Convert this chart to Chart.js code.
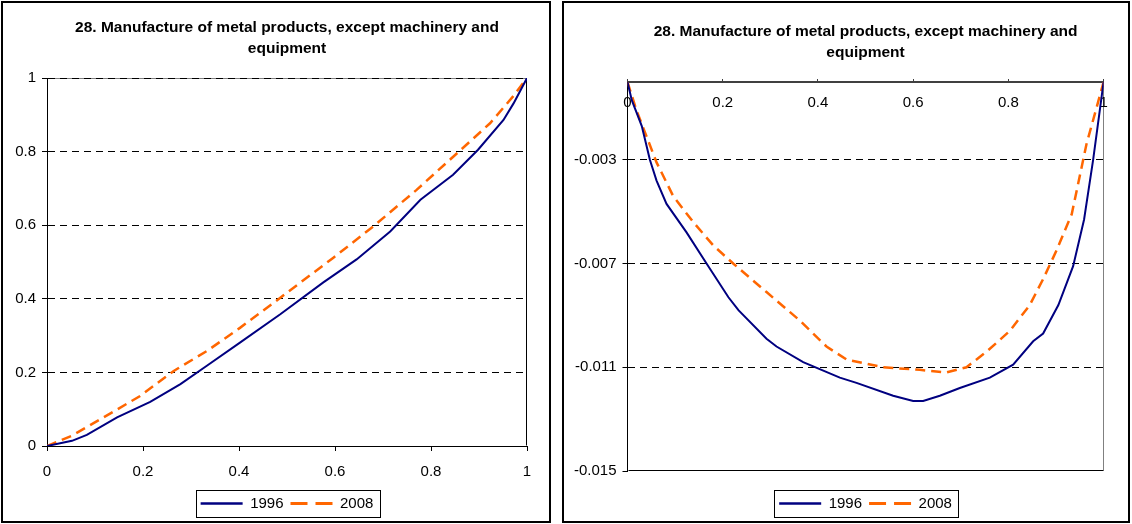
<!DOCTYPE html>
<html>
<head>
<meta charset="utf-8">
<script src="https://cdn.jsdelivr.net/npm/chart.js@4"></script>
<style>
body { margin: 0; background: #fff; width: 1132px; height: 524px; position: relative; overflow: hidden; }
.panel { position: absolute; top: 1px; border: 2px solid #000; background: #fff; }
#leftPanel { left: 1px; width: 546px; height: 518px; }
#rightPanel { left: 562px; width: 564px; height: 518px; }
canvas { display: block; }
</style>
</head>
<body>
<div class="panel" id="leftPanel"><canvas id="leftChart" width="546" height="518"></canvas></div>
<div class="panel" id="rightPanel"><canvas id="rightChart" width="564" height="518"></canvas></div>
<script>
const titleLines = ['28. Manufacture of metal products, except machinery and', 'equipment'];
const seriesNames = ['1996', '2008'];

// left chart: cumulative curves
const leftXTicks = [0, 0.2, 0.4, 0.6, 0.8, 1];
const leftYTicks = [0, 0.2, 0.4, 0.6, 0.8, 1];
const leftX1996 = [0, 0.052, 0.083, 0.146, 0.215, 0.278, 0.333, 0.402, 0.486, 0.575, 0.645, 0.715, 0.778, 0.846, 0.898, 0.951, 0.972, 1];
const leftY1996 = [0, 0.014, 0.030, 0.078, 0.12, 0.168, 0.218, 0.281, 0.358, 0.444, 0.507, 0.583, 0.669, 0.737, 0.805, 0.886, 0.931, 1];
const leftX2008 = [0, 0.052, 0.146, 0.194, 0.264, 0.333, 0.402, 0.472, 0.596, 0.68, 0.77, 0.858, 0.923, 0.971, 1];
const leftY2008 = [0, 0.028, 0.099, 0.136, 0.204, 0.258, 0.321, 0.389, 0.511, 0.597, 0.696, 0.8, 0.877, 0.95, 1];

// right chart: differences
const rightXTicks = [0, 0.2, 0.4, 0.6, 0.8, 1];
const rightYTicks = [-0.015, -0.011, -0.007, -0.003];
const rightX1996 = [0, 0.009, 0.030, 0.047, 0.061, 0.082, 0.124, 0.166, 0.212, 0.233, 0.292, 0.313, 0.369, 0.446, 0.481, 0.558, 0.600, 0.621, 0.656, 0.698, 0.761, 0.810, 0.852, 0.873, 0.905, 0.936, 0.959, 0.978, 1];
const rightY1996 = [0, -0.0007, -0.0017, -0.0030, -0.0038, -0.0047, -0.0058, -0.0070, -0.0083, -0.0088, -0.0099, -0.0102, -0.0108, -0.0114, -0.0116, -0.0121, -0.0123, -0.0123, -0.0121, -0.0118, -0.0114, -0.0109, -0.0100, -0.0097, -0.0086, -0.0071, -0.0053, -0.0030, 0];
const rightX2008 = [0, 0.019, 0.061, 0.096, 0.138, 0.180, 0.222, 0.292, 0.362, 0.418, 0.460, 0.537, 0.614, 0.670, 0.712, 0.754, 0.803, 0.845, 0.873, 0.901, 0.933, 0.964, 1];
const rightY2008 = [0, -0.0011, -0.0031, -0.0044, -0.0054, -0.0063, -0.0070, -0.0081, -0.0092, -0.0102, -0.0107, -0.0110, -0.0111, -0.0112, -0.0110, -0.0104, -0.0096, -0.0086, -0.0076, -0.0065, -0.0051, -0.0024, 0];

const FONT = '"Liberation Sans", Arial, sans-serif';
const tickFont = { family: FONT, size: 15 };

function zip(xs, ys) {
    return xs.map((x, i) => ({ x: x, y: ys[i] }));
}

function makeDatasets(x96, y96, x08, y08) {
    return [
        { label: seriesNames[0], data: zip(x96, y96), borderColor: '#000080', backgroundColor: '#000080', borderWidth: 2, xAxisID: 'x', yAxisID: 'y' },
        { label: seriesNames[1], data: zip(x08, y08), borderColor: '#FF6600', backgroundColor: '#FF6600', borderWidth: 2.5, borderDash: [10, 6], xAxisID: 'x', yAxisID: 'y' }
    ];
}

// thin lines around the plot area, drawn before the axes
const plotFrame = {
    id: 'plotFrame',
    beforeDraw(chart, args, opts) {
        const { ctx, chartArea: a } = chart;
        ctx.save();
        ctx.lineWidth = 1;
        const line = (x1, y1, x2, y2, color) => {
            if (!color) return;
            ctx.strokeStyle = color;
            ctx.beginPath();
            ctx.moveTo(x1, y1);
            ctx.lineTo(x2, y2);
            ctx.stroke();
        };
        const l = Math.round(a.left) + 0.5, r = Math.round(a.right) - 0.5;
        const t = Math.round(a.top) + 0.5, b = Math.round(a.bottom) - 0.5;
        line(l, t, r, t, opts.top);
        line(r, t, r, b, opts.right);
        line(l, b, r, b, opts.bottom);
        ctx.restore();
    }
};

// box around the legend items
const legendFrame = {
    id: 'legendFrame',
    afterDraw(chart) {
        const boxes = chart.legend.legendHitBoxes;
        if (!boxes || !boxes.length) return;
        const ctx = chart.ctx;
        const left = Math.min(...boxes.map(b => b.left)) - 5;
        const right = Math.max(...boxes.map(b => b.left + b.width)) + 6;
        const mid = boxes[0].top + boxes[0].height / 2;
        ctx.save();
        ctx.strokeStyle = '#000';
        ctx.lineWidth = 1;
        ctx.strokeRect(Math.round(left) + 0.5, Math.round(mid - 13.5) + 0.5, Math.round(right - left), 27);
        ctx.restore();
    }
};

function legendLabels(chart) {
    return chart.data.datasets.map((ds, i) => ({
        text: ds.label,
        strokeStyle: ds.borderColor,
        fillStyle: ds.borderColor,
        fontColor: '#000',
        lineWidth: ds.borderWidth + 0.5,
        lineDash: i === 1 ? [17, 8] : [],
        pointStyle: 'line',
        hidden: false,
        datasetIndex: i
    }));
}

function commonPlugins(titlePadding) {
    return {
        title: {
            display: true,
            fullSize: false,
            text: titleLines,
            color: '#000',
            font: { family: FONT, size: 15.5, weight: 'bold', lineHeight: 1.3 },
            padding: titlePadding
        },
        legend: {
            position: 'bottom',
            fullSize: false,
            labels: {
                usePointStyle: true,
                pointStyle: 'line',
                pointStyleWidth: 42,
                color: '#000',
                font: tickFont,
                padding: 7,
                generateLabels: legendLabels
            }
        },
        tooltip: { enabled: false }
    };
}

new Chart(document.getElementById('leftChart'), {
    type: 'scatter',
    data: { datasets: makeDatasets(leftX1996, leftY1996, leftX2008, leftY2008) },
    plugins: [plotFrame, legendFrame],
    options: {
        responsive: false,
        animation: false,
        showLine: true,
        elements: { point: { radius: 0 }, line: { tension: 0 } },
        layout: { padding: { left: 0, right: 22, top: 0, bottom: 0 } },
        scales: {
            x: {
                type: 'linear', min: 0, max: 1,
                afterBuildTicks: s => { s.ticks = leftXTicks.map(v => ({ value: v })); },
                afterFit: s => { s.height = 43; },
                grid: { drawOnChartArea: false, tickLength: 5, color: '#000' },
                border: { color: '#000', width: 1 },
                ticks: { color: '#000', font: tickFont, padding: 12, maxRotation: 0, autoSkip: false, callback: v => String(v) }
            },
            y: {
                type: 'linear', min: 0, max: 1,
                afterBuildTicks: s => { s.ticks = leftYTicks.map(v => ({ value: v })); },
                afterFit: s => { s.width = 44; },
                grid: {
                    color: c => (c.tick && c.tick.value === 0) ? 'rgba(0,0,0,0)' : '#000',
                    tickColor: '#000', tickLength: 5, tickBorderDash: []
                },
                border: { color: '#000', width: 1, dash: [7, 5] },
                ticks: { color: '#000', font: tickFont, padding: 6, autoSkip: false, callback: v => String(v) }
            }
        },
        plugins: Object.assign(commonPlugins({ top: 15, bottom: 19.7 }), {
            plotFrame: { top: '#808080', right: '#000' }
        })
    }
});

new Chart(document.getElementById('rightChart'), {
    type: 'scatter',
    data: { datasets: makeDatasets(rightX1996, rightY1996, rightX2008, rightY2008) },
    plugins: [plotFrame, legendFrame],
    options: {
        responsive: false,
        animation: false,
        showLine: true,
        elements: { point: { radius: 0 }, line: { tension: 0 } },
        layout: { padding: { left: 0, right: 24.4, top: 0, bottom: 0 } },
        scales: {
            x: {
                type: 'linear', min: 0, max: 1,
                position: { y: 0 },
                afterBuildTicks: s => { s.ticks = rightXTicks.map(v => ({ value: v })); },
                grid: { drawOnChartArea: false, tickLength: -4, color: '#404040' },
                border: { color: '#404040', width: 2 },
                ticks: { color: '#000', font: tickFont, padding: 16, maxRotation: 0, autoSkip: false, callback: v => String(v) }
            },
            y: {
                type: 'linear', min: -0.015, max: 0,
                afterBuildTicks: s => { s.ticks = rightYTicks.map(v => ({ value: v })); },
                afterFit: s => { s.width = 63.5; },
                grid: {
                    color: c => (c.tick && c.tick.value === -0.015) ? 'rgba(0,0,0,0)' : '#000',
                    tickColor: '#000', tickLength: 5, tickBorderDash: []
                },
                border: { color: '#000', width: 1, dash: [7, 5] },
                ticks: { color: '#000', font: tickFont, padding: 6, autoSkip: false, callback: v => String(v) }
            },
            gap: {
                type: 'linear', position: 'bottom',
                grid: { display: false },
                border: { display: false },
                ticks: { display: false },
                afterFit: s => { s.height = 18; }
            }
        },
        plugins: Object.assign(commonPlugins({ top: 19, bottom: 19.7 }), {
            plotFrame: { right: '#808080', bottom: '#000' }
        })
    }
});
</script>
</body>
</html>
